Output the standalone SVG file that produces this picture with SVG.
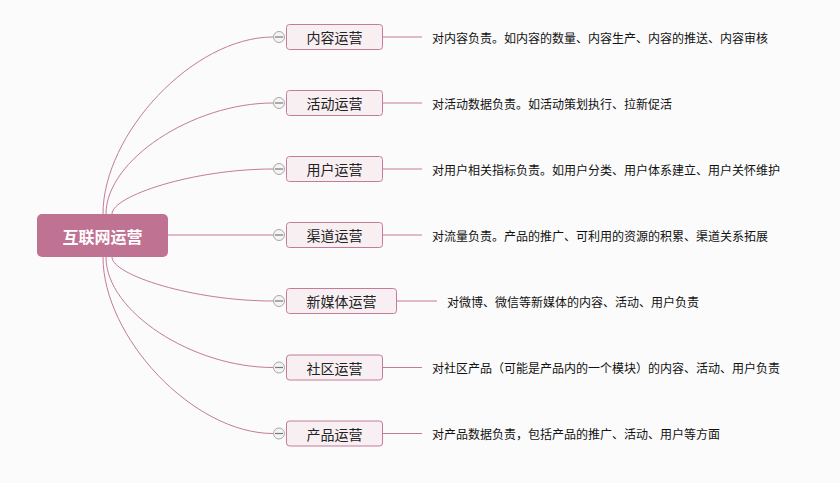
<svg xmlns="http://www.w3.org/2000/svg" width="840" height="483" viewBox="0 0 840 483">
<style>
.bg{fill:#fbfbfb}
.conn{fill:none;stroke:#c47a9c;stroke-width:1}
.box{fill:#f8eff3;stroke:#c47a9c;stroke-width:1}
.root{fill:#c07292}
.rt{font-family:"Noto Sans CJK SC","Liberation Sans",sans-serif;font-size:16px;font-weight:bold;fill:#ffffff;text-anchor:middle;dominant-baseline:central}
.lbl{font-family:"Noto Sans CJK SC","Liberation Sans",sans-serif;font-size:14px;fill:#222;text-anchor:middle;dominant-baseline:central}
.desc{font-family:"Noto Sans CJK SC","Liberation Sans",sans-serif;font-size:12px;fill:#111;dominant-baseline:central}
.tog{fill:#f4f4f4;stroke:#a8a8a8;stroke-width:1}
.minus{stroke:#777;stroke-width:1.2}
</style>
<rect class="bg" x="0" y="0" width="840" height="483"/>
<g id="connectors">
<path class="conn" d="M103,214 C103,134 193,37 273,37"/>
<path class="conn" d="M106,214 C106,160 193,103 273,103"/>
<path class="conn" d="M112,214 C112,196 193,169 273,169"/>
<path class="conn" d="M168,235 L273,235"/>
<path class="conn" d="M112,257 C112,275 193,301 273,301"/>
<path class="conn" d="M106,257 C106,312 193,367.5 273,367.5"/>
<path class="conn" d="M103,257 C103,337 193,433.5 273,433.5"/>
<path class="conn" d="M383,37 H422"/>
<path class="conn" d="M383,103 H422"/>
<path class="conn" d="M383,169 H422"/>
<path class="conn" d="M383,235 H422"/>
<path class="conn" d="M397,301 H437"/>
<path class="conn" d="M383,367.5 H422"/>
<path class="conn" d="M383,433.5 H422"/>
</g>
<g id="root">
<rect class="root" x="37" y="214" width="131" height="43" rx="5"/>
<text class="rt" x="102.5" y="235.5">互联网运营</text>
</g>
<g id="n1">
<rect class="box" x="286.5" y="24.5" width="96" height="25" rx="3"/>
<text class="lbl" x="334.5" y="37">内容运营</text>
<circle class="tog" cx="279" cy="37" r="5.5"/><line class="minus" x1="275" y1="37" x2="283" y2="37"/>
<text class="desc" x="432" y="37">对内容负责。如内容的数量、内容生产、内容的推送、内容审核</text>
</g>
<g id="n2">
<rect class="box" x="286.5" y="90.5" width="96" height="25" rx="3"/>
<text class="lbl" x="334.5" y="103">活动运营</text>
<circle class="tog" cx="279" cy="103" r="5.5"/><line class="minus" x1="275" y1="103" x2="283" y2="103"/>
<text class="desc" x="432" y="103">对活动数据负责。如活动策划执行、拉新促活</text>
</g>
<g id="n3">
<rect class="box" x="286.5" y="156.5" width="96" height="25" rx="3"/>
<text class="lbl" x="334.5" y="169">用户运营</text>
<circle class="tog" cx="279" cy="169" r="5.5"/><line class="minus" x1="275" y1="169" x2="283" y2="169"/>
<text class="desc" x="432" y="169">对用户相关指标负责。如用户分类、用户体系建立、用户关怀维护</text>
</g>
<g id="n4">
<rect class="box" x="286.5" y="222.5" width="96" height="25" rx="3"/>
<text class="lbl" x="334.5" y="235">渠道运营</text>
<circle class="tog" cx="279" cy="235" r="5.5"/><line class="minus" x1="275" y1="235" x2="283" y2="235"/>
<text class="desc" x="432" y="235">对流量负责。产品的推广、可利用的资源的积累、渠道关系拓展</text>
</g>
<g id="n5">
<rect class="box" x="286.5" y="288.5" width="110" height="25" rx="3"/>
<text class="lbl" x="341.5" y="301">新媒体运营</text>
<circle class="tog" cx="279" cy="301" r="5.5"/><line class="minus" x1="275" y1="301" x2="283" y2="301"/>
<text class="desc" x="447" y="301">对微博、微信等新媒体的内容、活动、用户负责</text>
</g>
<g id="n6">
<rect class="box" x="286.5" y="355" width="96" height="25" rx="3"/>
<text class="lbl" x="334.5" y="367.5">社区运营</text>
<circle class="tog" cx="279" cy="367.5" r="5.5"/><line class="minus" x1="275" y1="367.5" x2="283" y2="367.5"/>
<text class="desc" x="432" y="367.5">对社区产品（可能是产品内的一个模块）的内容、活动、用户负责</text>
</g>
<g id="n7">
<rect class="box" x="286.5" y="421" width="96" height="25" rx="3"/>
<text class="lbl" x="334.5" y="433.5">产品运营</text>
<circle class="tog" cx="279" cy="433.5" r="5.5"/><line class="minus" x1="275" y1="433.5" x2="283" y2="433.5"/>
<text class="desc" x="432" y="433.5">对产品数据负责，包括产品的推广、活动、用户等方面</text>
</g>
</svg>
